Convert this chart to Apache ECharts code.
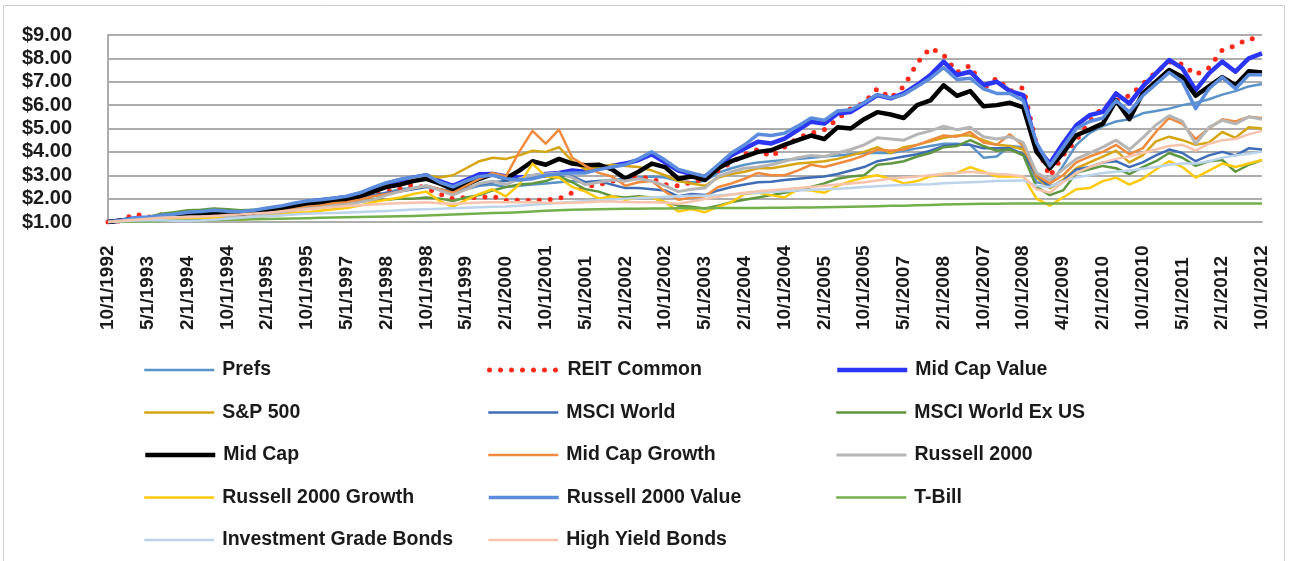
<!DOCTYPE html>
<html>
<head>
<meta charset="utf-8">
<script src="https://cdn.jsdelivr.net/npm/echarts@6/dist/echarts.min.js"></script>
<style>
    html, body { margin: 0; padding: 0; background: #fff; }
    #chart { width: 1296px; height: 561px; }
</style>
</head>
<body>
<div id="chart"></div>
<script>
// x轴标签（每三个数据点一个）
var dateLabels = ['10/1/1992', '5/1/1993', '2/1/1994', '10/1/1994', '2/1/1995', '10/1/1995', '5/1/1997', '2/1/1998',
    '10/1/1998', '5/1/1999', '2/1/2000', '10/1/2001', '5/1/2001', '2/1/2002', '10/1/2002', '5/1/2003', '2/1/2004',
    '10/1/2004', '2/1/2005', '10/1/2005', '5/1/2007', '2/1/2008', '10/1/2007', '10/1/2008', '4/1/2009', '2/1/2010',
    '10/1/2010', '5/1/2011', '2/1/2012', '10/1/2012']

// 各系列数值（$1 增长）
var prefs = [1.00, 1.08, 1.12, 1.15, 1.18, 1.20, 1.28, 1.30, 1.35, 1.33,
    1.32, 1.38, 1.45, 1.50, 1.60, 1.68, 1.72, 1.80, 1.85, 1.95,
    2.10, 2.25, 2.40, 2.45, 2.55, 2.40, 2.30, 2.40, 2.55, 2.60,
    2.50, 2.55, 2.60, 2.65, 2.70, 2.75, 2.70, 2.75, 2.80, 2.85,
    2.90, 2.95, 2.90, 2.75, 2.70, 2.75, 3.10, 3.30, 3.45, 3.55,
    3.60, 3.65, 3.70, 3.75, 3.80, 3.85, 3.90, 3.95, 3.95, 3.95,
    4.05, 4.15, 4.25, 4.35, 4.35, 4.30, 3.75, 3.80, 4.25, 4.20,
    2.70, 2.60, 3.40, 4.30, 4.80, 5.10, 5.30, 5.40, 5.65, 5.75,
    5.85, 6.00, 6.10, 6.25, 6.45, 6.60, 6.80, 6.90]
var reit = [1.00, 1.05, 1.35, 1.20, 1.30, 1.32, 1.38, 1.40, 1.42, 1.40,
    1.38, 1.42, 1.50, 1.55, 1.60, 1.65, 1.70, 1.78, 1.90, 2.00,
    2.10, 2.30, 2.45, 2.60, 2.45, 2.20, 2.00, 2.05, 2.05, 2.10,
    1.92, 1.93, 1.92, 1.95, 2.00, 2.25, 2.50, 2.60, 2.75, 2.80,
    2.95, 2.85, 2.60, 2.55, 2.70, 2.85, 3.20, 3.55, 3.90, 4.10,
    3.80, 4.20, 4.60, 4.80, 4.95, 5.40, 5.85, 6.10, 6.70, 6.30,
    6.80, 7.80, 8.45, 8.15, 7.40, 7.70, 6.70, 7.15, 6.60, 6.75,
    4.30, 2.95, 3.85, 4.50, 5.30, 5.90, 6.20, 6.40, 6.90, 7.40,
    7.85, 7.75, 7.30, 7.60, 8.35, 8.55, 8.85, 8.80]
var midCapValue = [1.00, 1.07, 1.15, 1.18, 1.25, 1.30, 1.38, 1.40, 1.45, 1.42,
    1.40, 1.45, 1.55, 1.62, 1.75, 1.86, 1.93, 2.00, 2.07, 2.21,
    2.43, 2.64, 2.79, 2.90, 3.00, 2.75, 2.55, 2.79, 3.04, 3.05,
    2.95, 2.90, 2.95, 3.05, 3.10, 3.20, 3.15, 3.30, 3.40, 3.50,
    3.65, 3.90, 3.55, 3.20, 3.05, 2.93, 3.36, 3.86, 4.14, 4.43,
    4.36, 4.57, 4.93, 5.29, 5.21, 5.64, 5.71, 6.07, 6.43, 6.29,
    6.50, 6.86, 7.29, 7.86, 7.29, 7.43, 6.86, 7.00, 6.60, 6.43,
    4.21, 3.50, 4.36, 5.14, 5.57, 5.71, 6.50, 6.07, 6.79, 7.36,
    7.93, 7.57, 6.64, 7.36, 7.86, 7.43, 8.00, 8.21]
var sp500 = [1.00, 1.04, 1.08, 1.10, 1.12, 1.10, 1.15, 1.14, 1.15, 1.13,
    1.12, 1.18, 1.28, 1.38, 1.48, 1.60, 1.70, 1.80, 1.90, 2.05,
    2.30, 2.55, 2.55, 2.85, 3.00, 2.90, 3.00, 3.30, 3.60, 3.75,
    3.70, 3.85, 4.05, 4.00, 4.20, 3.60, 3.25, 3.35, 3.45, 3.40,
    3.35, 3.20, 3.00, 2.75, 2.65, 2.55, 2.90, 3.05, 3.15, 3.30,
    3.30, 3.40, 3.50, 3.55, 3.60, 3.70, 3.85, 4.00, 4.20, 3.95,
    4.20, 4.30, 4.45, 4.60, 4.70, 4.70, 4.50, 4.30, 4.25, 4.10,
    2.90, 2.45, 2.80, 3.30, 3.55, 3.80, 4.05, 3.55, 3.85, 4.45,
    4.65, 4.50, 4.30, 4.40, 4.85, 4.60, 5.05, 5.00]
var msciWorld = [1.00, 1.05, 1.10, 1.15, 1.25, 1.30, 1.40, 1.42, 1.45, 1.42,
    1.38, 1.42, 1.50, 1.58, 1.68, 1.75, 1.80, 1.85, 1.95, 2.05,
    2.15, 2.25, 2.30, 2.40, 2.50, 2.40, 2.30, 2.45, 2.60, 2.70,
    2.75, 2.85, 2.90, 2.95, 3.00, 2.95, 2.70, 2.75, 2.60, 2.45,
    2.45, 2.40, 2.35, 2.10, 2.20, 2.15, 2.35, 2.50, 2.60, 2.70,
    2.72, 2.80, 2.85, 2.90, 2.95, 3.05, 3.20, 3.35, 3.60, 3.70,
    3.80, 3.90, 4.05, 4.25, 4.30, 4.30, 4.15, 4.15, 4.15, 3.90,
    3.00, 2.50, 2.75, 3.25, 3.35, 3.55, 3.60, 3.35, 3.55, 3.85,
    4.10, 3.95, 3.60, 3.85, 4.00, 3.85, 4.15, 4.10]
var msciWorldExUs = [1.00, 1.05, 1.12, 1.20, 1.35, 1.42, 1.50, 1.52, 1.58, 1.55,
    1.50, 1.52, 1.55, 1.55, 1.60, 1.68, 1.75, 1.80, 1.85, 1.90,
    1.95, 1.95, 2.00, 2.00, 2.05, 2.00, 1.90, 2.05, 2.15, 2.35,
    2.50, 2.60, 2.65, 2.75, 2.95, 2.70, 2.40, 2.30, 2.10, 2.05,
    2.10, 2.05, 1.85, 1.70, 1.65, 1.58, 1.70, 1.85, 1.95, 2.05,
    2.15, 2.25, 2.35, 2.50, 2.65, 2.85, 2.95, 3.00, 3.45, 3.50,
    3.60, 3.80, 3.95, 4.20, 4.25, 4.50, 4.25, 4.05, 4.10, 3.85,
    2.50, 2.15, 2.35, 3.10, 3.25, 3.40, 3.30, 3.05, 3.35, 3.60,
    3.95, 3.75, 3.40, 3.60, 3.65, 3.15, 3.45, 3.65]
var midCap = [1.00, 1.06, 1.12, 1.15, 1.20, 1.25, 1.32, 1.35, 1.40, 1.38,
    1.35, 1.40, 1.48, 1.55, 1.65, 1.78, 1.85, 1.90, 1.95, 2.10,
    2.30, 2.50, 2.60, 2.75, 2.85, 2.65, 2.40, 2.60, 2.85, 3.05,
    2.86, 3.20, 3.60, 3.45, 3.70, 3.50, 3.43, 3.45, 3.25, 2.86,
    3.15, 3.50, 3.35, 2.85, 2.95, 2.80, 3.30, 3.60, 3.80, 4.00,
    4.07, 4.30, 4.50, 4.70, 4.55, 5.05, 5.00, 5.40, 5.70, 5.60,
    5.45, 6.00, 6.20, 6.85, 6.40, 6.60, 5.95, 6.00, 6.10, 5.90,
    4.00, 3.30, 3.95, 4.71, 4.95, 5.21, 6.20, 5.40, 6.50, 7.00,
    7.50, 7.20, 6.40, 6.80, 7.20, 6.85, 7.45, 7.40]
var midCapGrowth = [1.00, 1.05, 1.10, 1.12, 1.15, 1.13, 1.20, 1.22, 1.25, 1.20,
    1.18, 1.25, 1.35, 1.45, 1.55, 1.65, 1.70, 1.80, 1.85, 1.95,
    2.10, 2.20, 2.30, 2.45, 2.55, 2.40, 2.25, 2.55, 2.85, 3.10,
    2.95, 4.00, 4.90, 4.35, 4.95, 3.75, 3.40, 3.10, 2.95, 2.55,
    2.70, 2.75, 2.30, 1.95, 2.05, 2.10, 2.50, 2.65, 2.85, 3.10,
    3.00, 3.00, 3.20, 3.45, 3.35, 3.50, 3.65, 3.85, 4.10, 4.05,
    4.10, 4.30, 4.50, 4.70, 4.65, 4.85, 4.40, 4.30, 4.75, 4.25,
    3.00, 2.65, 3.00, 3.55, 3.80, 4.00, 4.30, 3.90, 4.15, 4.85,
    5.45, 5.20, 4.55, 5.00, 5.40, 5.30, 5.50, 5.45]
var russell2000 = [1.00, 1.06, 1.12, 1.15, 1.20, 1.18, 1.22, 1.22, 1.25, 1.20,
    1.18, 1.25, 1.35, 1.42, 1.50, 1.58, 1.62, 1.70, 1.75, 1.85,
    1.95, 2.15, 2.30, 2.45, 2.55, 2.35, 2.15, 2.40, 2.65, 2.75,
    2.60, 2.85, 3.00, 3.05, 3.10, 2.90, 2.60, 2.70, 2.80, 2.75,
    2.85, 2.75, 2.55, 2.30, 2.40, 2.45, 2.95, 3.15, 3.30, 3.35,
    3.45, 3.60, 3.75, 3.85, 3.80, 3.95, 4.10, 4.30, 4.60, 4.55,
    4.50, 4.75, 4.90, 5.10, 4.95, 5.05, 4.65, 4.55, 4.65, 4.40,
    3.10, 2.80, 3.25, 3.70, 3.95, 4.20, 4.50, 4.10, 4.60, 5.15,
    5.55, 5.30, 4.35, 5.05, 5.35, 5.20, 5.50, 5.40]
var russell2000Growth = [1.00, 1.05, 1.10, 1.12, 1.15, 1.10, 1.15, 1.15, 1.18, 1.12,
    1.10, 1.15, 1.25, 1.30, 1.38, 1.42, 1.48, 1.55, 1.60, 1.70,
    1.85, 1.95, 2.05, 2.20, 2.30, 1.90, 1.65, 1.95, 2.20, 2.40,
    2.10, 2.60, 3.50, 2.95, 2.90, 2.50, 2.30, 2.00, 2.10, 1.95,
    2.05, 2.05, 1.85, 1.45, 1.55, 1.42, 1.65, 1.85, 2.20, 2.25,
    2.15, 2.05, 2.40, 2.35, 2.25, 2.55, 2.75, 2.90, 3.00, 2.85,
    2.65, 2.75, 2.95, 3.05, 3.10, 3.35, 3.15, 2.95, 2.95, 2.95,
    2.00, 1.70, 2.05, 2.40, 2.45, 2.75, 2.90, 2.60, 2.85, 3.25,
    3.60, 3.35, 2.90, 3.20, 3.50, 3.35, 3.50, 3.65]
var russell2000Value = [1.00, 1.08, 1.17, 1.20, 1.28, 1.33, 1.42, 1.45, 1.50, 1.46,
    1.44, 1.50, 1.60, 1.68, 1.80, 1.90, 1.95, 2.02, 2.10, 2.25,
    2.48, 2.68, 2.82, 2.92, 3.02, 2.70, 2.50, 2.75, 2.95, 3.00,
    2.85, 2.80, 2.85, 3.00, 3.05, 3.10, 3.10, 3.25, 3.35, 3.45,
    3.70, 4.00, 3.65, 3.25, 3.10, 2.95, 3.45, 3.95, 4.30, 4.75,
    4.70, 4.80, 5.10, 5.45, 5.35, 5.75, 5.80, 6.10, 6.45, 6.30,
    6.45, 6.80, 7.15, 7.60, 7.10, 7.15, 6.70, 6.50, 6.50, 6.20,
    4.40, 3.40, 4.20, 5.00, 5.30, 5.45, 6.20, 5.70, 6.40, 6.90,
    7.40, 7.00, 5.85, 6.70, 7.20, 6.70, 7.30, 7.30]
var tBill = [1.00, 1.01, 1.02, 1.03, 1.04, 1.05, 1.06, 1.07, 1.08, 1.10,
    1.11, 1.12, 1.13, 1.14, 1.15, 1.16, 1.18, 1.19, 1.20, 1.21,
    1.22, 1.24, 1.25, 1.26, 1.28, 1.30, 1.32, 1.34, 1.36, 1.38,
    1.40, 1.42, 1.45, 1.48, 1.50, 1.52, 1.54, 1.55, 1.56, 1.57,
    1.57, 1.58, 1.58, 1.59, 1.59, 1.59, 1.60, 1.60, 1.60, 1.60,
    1.61, 1.61, 1.62, 1.62, 1.63, 1.64, 1.65, 1.66, 1.67, 1.69,
    1.70, 1.72, 1.73, 1.75, 1.76, 1.77, 1.78, 1.78, 1.79, 1.79,
    1.79, 1.79, 1.79, 1.79, 1.79, 1.79, 1.79, 1.79, 1.79, 1.79,
    1.79, 1.79, 1.79, 1.79, 1.79, 1.79, 1.79, 1.79]
var investmentGrade = [1.00, 1.03, 1.06, 1.08, 1.07, 1.05, 1.04, 1.06, 1.10, 1.14,
    1.18, 1.22, 1.25, 1.28, 1.32, 1.35, 1.37, 1.39, 1.41, 1.43,
    1.45, 1.47, 1.50, 1.53, 1.55, 1.57, 1.59, 1.61, 1.63, 1.65,
    1.66, 1.70, 1.74, 1.78, 1.82, 1.86, 1.90, 1.93, 1.96, 2.00,
    2.03, 2.05, 2.08, 2.10, 2.12, 2.12, 2.14, 2.18, 2.22, 2.25,
    2.28, 2.32, 2.35, 2.38, 2.40, 2.42, 2.45, 2.50, 2.53, 2.56,
    2.58, 2.60, 2.62, 2.66, 2.68, 2.70, 2.72, 2.75, 2.77, 2.78,
    2.55, 2.50, 2.75, 2.90, 3.00, 3.10, 3.15, 3.20, 3.28, 3.35,
    3.45, 3.50, 3.50, 3.60, 3.75, 3.85, 3.92, 4.00]
var highYield = [1.00, 1.05, 1.10, 1.14, 1.18, 1.20, 1.20, 1.22, 1.26, 1.30,
    1.32, 1.36, 1.40, 1.45, 1.50, 1.55, 1.60, 1.64, 1.68, 1.72,
    1.75, 1.78, 1.80, 1.82, 1.84, 1.80, 1.78, 1.80, 1.83, 1.85,
    1.84, 1.85, 1.86, 1.82, 1.80, 1.82, 1.85, 1.88, 1.88, 1.86,
    1.85, 1.84, 1.82, 1.78, 1.88, 1.98, 2.08, 2.18, 2.25, 2.32,
    2.36, 2.40, 2.45, 2.50, 2.55, 2.60, 2.65, 2.70, 2.78, 2.86,
    2.90, 2.95, 3.00, 3.05, 3.10, 3.15, 3.10, 3.05, 3.02, 2.95,
    2.40, 2.25, 2.70, 3.10, 3.35, 3.55, 3.70, 3.80, 3.95, 4.10,
    4.25, 4.30, 4.05, 4.35, 4.50, 4.55, 4.75, 4.90]

// 类目：每个标签后面跟两个空白点
var categories = []
for (var i = 0; i < dateLabels.length; i++) {
    categories.push(dateLabels[i])
    if (i < dateLabels.length - 1) {
        categories.push('')
        categories.push('')
    }
}

var fontFamily = '"Liberation Sans", Arial, Helvetica, sans-serif'

// 系列：名称、数据、颜色、线宽
var seriesList = [
    { name: 'Prefs', data: prefs, color: '#5a93c8', width: 2.5 },
    { name: 'REIT Common', data: reit, color: '#ff2a1a', width: 5, dash: [0, 11] },
    { name: 'Mid Cap Value', data: midCapValue, color: '#2b35f5', width: 4.5 },
    { name: 'S&P 500', data: sp500, color: '#d6a514', width: 2.5 },
    { name: 'MSCI World', data: msciWorld, color: '#3f6db5', width: 2.5 },
    { name: 'MSCI World Ex US', data: msciWorldExUs, color: '#5f9640', width: 2.5 },
    { name: 'Mid Cap', data: midCap, color: '#000000', width: 4.5 },
    { name: 'Mid Cap Growth', data: midCapGrowth, color: '#f08a3c', width: 2.5 },
    { name: 'Russell 2000', data: russell2000, color: '#b5b5b5', width: 3 },
    { name: 'Russell 2000 Growth', data: russell2000Growth, color: '#ffc90e', width: 2.5 },
    { name: 'Russell 2000 Value', data: russell2000Value, color: '#5b8ddc', width: 3.5 },
    { name: 'T-Bill', data: tBill, color: '#72b04c', width: 2.5 },
    { name: 'Investment Grade Bonds', data: investmentGrade, color: '#bcd3ec', width: 2.5 },
    { name: 'High Yield Bonds', data: highYield, color: '#f6c3ad', width: 2.5 }
]

var chart = echarts.init(document.getElementById('chart'))

// 图例：三列五行，每项单独定位
var legendCols = [143, 487, 835]
var legendTop = 370
var legendRowGap = 42.5

var option = {
    animation: false,
    backgroundColor: '#ffffff',
    graphic: [{
        type: 'rect',
        shape: { x: 3.5, y: 5.5, width: 1281, height: 600 },
        style: { fill: 'none', stroke: '#cfcfcf', lineWidth: 1 },
        silent: true
    }],
    grid: {
        left: 108,
        right: 34,
        top: 35,
        bottom: 339,
        containLabel: false,
        outerBoundsMode: 'none'
    },
    xAxis: {
        type: 'category',
        data: categories,
        boundaryGap: false,
        axisLine: { show: true, lineStyle: { color: '#adadad', width: 2 } },
        axisTick: { show: false },
        splitLine: { show: false },
        axisLabel: {
            interval: 2,
            rotate: 90,
            align: 'left',
            verticalAlign: 'middle',
            margin: 108,
            color: '#1a1a1a',
            fontSize: 19,
            fontWeight: 'bold',
            fontFamily: fontFamily
        }
    },
    yAxis: {
        type: 'value',
        min: 1,
        max: 9,
        interval: 1,
        axisLine: { show: true, lineStyle: { color: '#adadad', width: 2 } },
        axisTick: { show: false },
        splitLine: { show: true, lineStyle: { color: '#adadad', width: 2 } },
        axisLabel: {
            margin: 36,
            color: '#1a1a1a',
            fontSize: 20,
            fontWeight: 'bold',
            fontFamily: fontFamily,
            formatter: function (v) {
                return '$' + v.toFixed(2)
            }
        }
    },
    legend: seriesList.map(function (s, i) {
        return {
            data: [s.name],
            left: legendCols[i % 3],
            top: legendTop + Math.floor(i / 3) * legendRowGap - 10,
            padding: 0,
            itemWidth: 70,
            itemHeight: 20,
            itemGap: 8,
            selectedMode: false,
            itemStyle: { opacity: 0 },
            lineStyle: { width: 'inherit' },
            textStyle: {
                color: '#1a1a1a',
                fontSize: 19.5,
                fontWeight: 'bold',
                fontFamily: fontFamily,
                lineHeight: 20,
                padding: [0, 0, 0, 3]
            }
        }
    }),
    series: seriesList.map(function (s) {
        return {
            name: s.name,
            type: 'line',
            data: s.data,
            symbol: 'none',
            showSymbol: false,
            silent: true,
            color: s.color,
            lineStyle: {
                color: s.color,
                width: s.width,
                type: s.dash ? s.dash : 'solid',
                cap: s.dash ? 'round' : 'butt',
                join: 'round'
            },
            emphasis: { disabled: true }
        }
    })
}

chart.setOption(option)
</script>
</body>
</html>
